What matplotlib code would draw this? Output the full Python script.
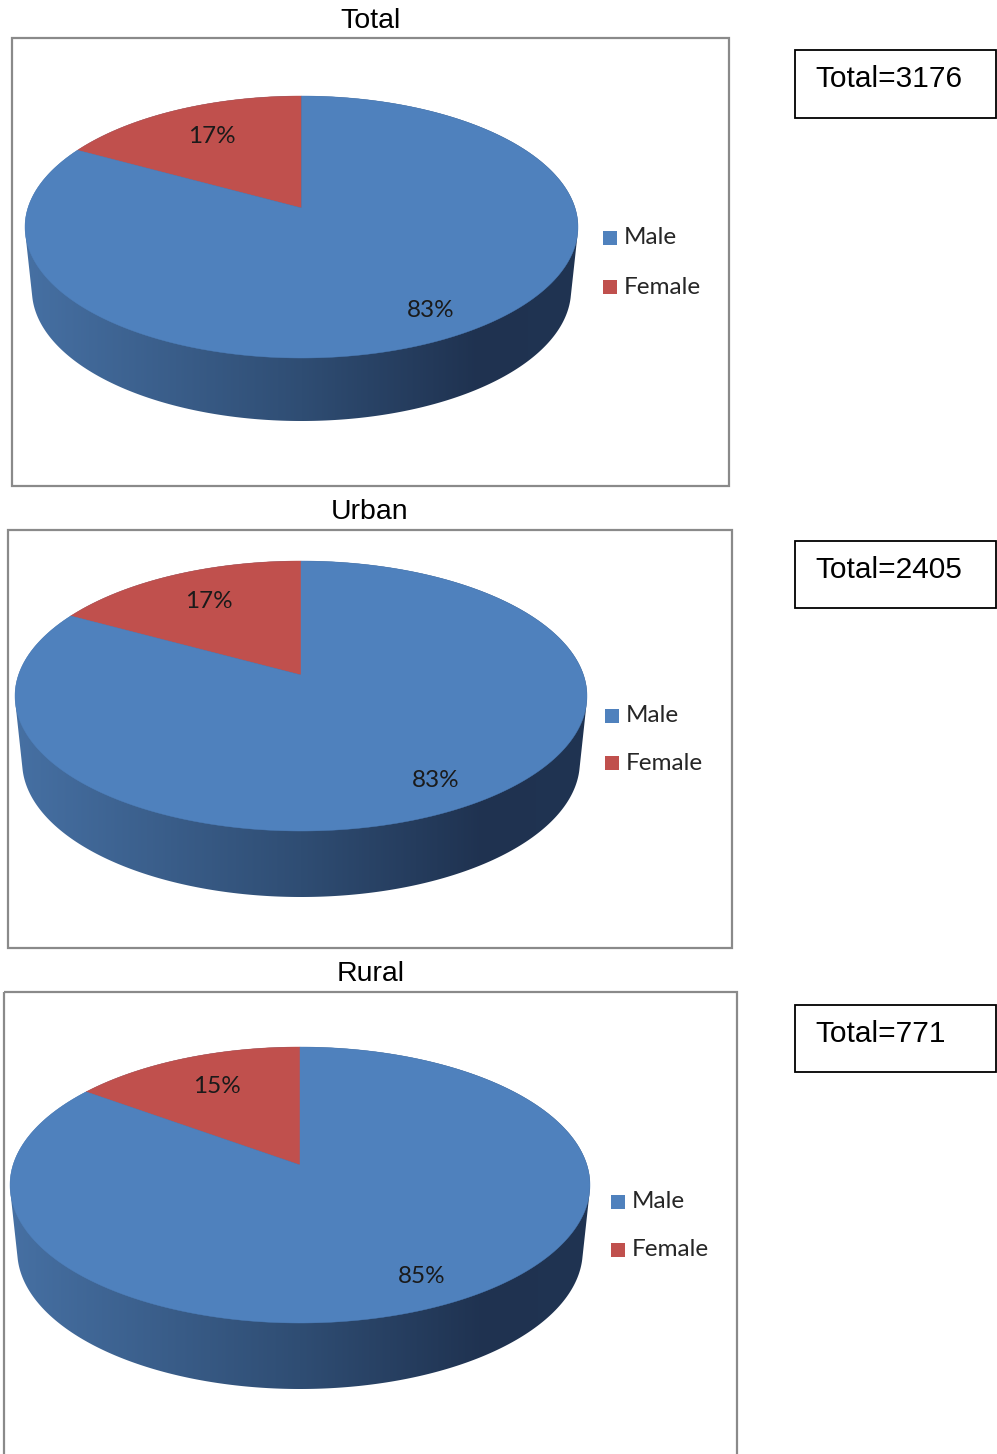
import numpy as np
import matplotlib.pyplot as plt
from matplotlib.patches import Polygon, Rectangle
from matplotlib.colors import LinearSegmentedColormap

# data
titles = ['Total', 'Urban', 'Rural']
categories = ['Male', 'Female']
male_pct = [83, 83, 85]
female_pct = [17, 17, 15]
totals = [3176, 2405, 771]

colors = ['#4f81bd', '#c0504d']
side_cmap = LinearSegmentedColormap.from_list(
    'side', [(0.0, '#4670a3'), (0.5, '#2f4d73'), (0.82, '#1f3250'), (1.0, '#203452')])

W, H = 997, 1454
fig = plt.figure(figsize=(W / 100, H / 100), dpi=100)
ax = fig.add_axes([0, 0, 1, 1])

# layout of each panel (pixel units, y downwards)
# pie = (cx, cy, half width, far radius, near radius, depth)
panels = [
    dict(frame=(12, 38, 729, 486), title_y=21, pie=(301.5, 208, 276.5, 112, 150, 63),
         leg=(603, 238, 49), box=(795, 50, 997, 118)),
    dict(frame=(8, 530, 732, 948), title_y=512, pie=(301, 675, 286, 114, 156, 66),
         leg=(605, 716, 47), box=(795, 541, 997, 608)),
    dict(frame=(4, 992, 737, 1470), title_y=974, pie=(300, 1165, 290, 118, 158, 66),
         leg=(611, 1202, 48), box=(795, 1005, 997, 1072)),
]


def project(p, th, r=1.0):
    # circle on the ground seen in perspective: far side shrinks
    cx, cy, a, bf, bn, _ = p
    k = (bn - bf) / (bn + bf)
    A = a * np.sqrt(1 - k * k)
    B = bf * (1 + k)
    u, v = r * np.cos(th), r * np.sin(th)
    f = 1 + k * v
    return cx + A * u / f, cy - B * v / f


def hull(pts):
    pts = sorted(map(tuple, pts))

    def half(seq):
        out = []
        for q in seq:
            while len(out) >= 2 and ((out[-1][0] - out[-2][0]) * (q[1] - out[-2][1])
                                     - (out[-1][1] - out[-2][1]) * (q[0] - out[-2][0])) <= 0:
                out.pop()
            out.append(q)
        return out
    lo, up = half(pts), half(pts[::-1])
    return np.array(lo[:-1] + up[:-1])


for i, pn in enumerate(panels):
    x0, y0, x1, y1 = pn['frame']
    ax.add_patch(Rectangle((x0, y0), x1 - x0, y1 - y0, fill=False,
                           edgecolor='#8a8a8a', lw=1.6, zorder=1))
    ax.text((x0 + x1) / 2, pn['title_y'], titles[i], ha='center', va='center',
            fontsize=20.5, family='Liberation Sans', color='black')

    p = pn['pie']
    cx, cy, a, bf, bn, d = p

    # body of the cylinder (top and bottom outline), shaded left to right
    th = np.linspace(0, 2 * np.pi, 720)
    tx, ty = project(p, th)
    bx = cx + 0.975 * (tx - cx)
    by = ty + d
    body = Polygon(hull(np.column_stack([np.r_[tx, bx], np.r_[ty, by]])), closed=True,
                   facecolor='none', edgecolor='none', zorder=2)
    ax.add_patch(body)
    grad = np.linspace(0, 1, 256).reshape(1, -1)
    im = ax.imshow(grad, cmap=side_cmap, aspect='auto', zorder=2, interpolation='bilinear',
                   extent=(cx - a, cx + a, cy + bn + d + 4, cy - bf - 4))
    im.set_clip_path(body)

    # top face wedges, starting at 12 o'clock and going counter-clockwise
    shares = [female_pct[i], male_pct[i]]
    wedge_cols = [colors[1], colors[0]]
    start = np.pi / 2
    mids = []
    for share, col in zip(shares, wedge_cols):
        span = 2 * np.pi * share / 100
        th = np.linspace(start, start + span, 400)
        wx, wy = project(p, th)
        pts = np.column_stack([np.r_[cx, wx], np.r_[cy, wy]])
        ax.add_patch(Polygon(pts, closed=True, facecolor=col, edgecolor=col,
                             lw=0.3, zorder=3))
        mids.append(start + span / 2)
        start += span

    # percentage labels
    for share, m in zip(shares, mids):
        lx, ly = project(p, m, r=0.78)
        ax.text(lx + 9, ly + 7, f'{share}%', ha='center', va='center', fontsize=17.5,
                family='Lato', color='#1a1a1a', zorder=4)

    # legend
    lx, ly, gap = pn['leg']
    for k, cat in enumerate(categories):
        yy = ly + k * gap
        ax.add_patch(Rectangle((lx, yy - 7), 14, 14, facecolor=colors[k],
                               edgecolor='none', zorder=4))
        ax.text(lx + 21, yy, cat, ha='left', va='center', fontsize=17.5,
                family='Lato', color='#262626', zorder=4)

    # total count box
    bx0, by0, bx1, by1 = pn['box']
    ax.add_patch(Rectangle((bx0, by0), bx1 - bx0 - 1, by1 - by0, fill=False,
                           edgecolor='black', lw=1.3, zorder=4))
    ax.text(bx0 + 20, by0 + 29, f'Total={totals[i]}', ha='left', va='center',
            fontsize=21.5, family='Liberation Sans', color='black')

ax.set_xlim(0, W)
ax.set_ylim(H, 0)
ax.axis('off')
fig.savefig('out.png', dpi=100, facecolor='white')
